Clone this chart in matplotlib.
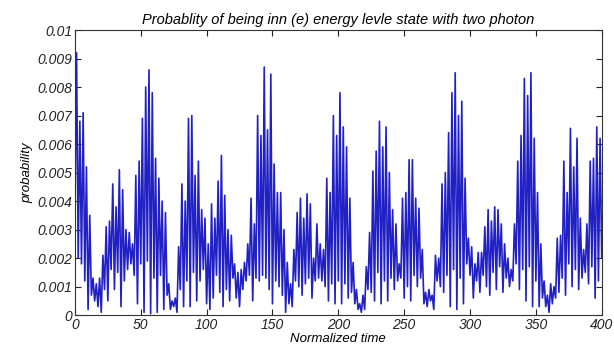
import numpy as np
import matplotlib
matplotlib.use("Agg")
import matplotlib.pyplot as plt

# Peak values (x1e-3) of each oscillation, one per 2.5 time units starting at t=1.25
peaks = [
    9.2, 6.8, 7.1, 5.2, 3.5, 1.3, 1.1, 1.3, 2.1, 3.1,
    3.3, 4.6, 3.8, 5.1, 4.4, 3.0, 2.9, 2.5, 4.9, 5.4,
    6.9, 8.0, 8.6, 7.8, 5.5, 4.8, 4.0, 3.6, 1.1, 0.5,
    0.6, 2.4, 4.6, 4.0, 6.9, 7.0, 4.9, 5.4, 3.7, 3.4,
    2.5, 3.9, 3.4, 4.7, 5.6, 4.2, 3.0, 2.8, 1.8, 1.5,
    1.6, 1.85, 2.5, 4.1, 3.2, 7.0, 6.3, 8.7, 6.5, 8.45,
    5.3, 4.3, 4.3, 3.0, 1.85, 1.1, 2.3, 3.6, 4.1, 3.4,
    4.25, 3.9, 2.0, 3.2, 2.5, 2.3, 4.8, 4.3, 7.0, 6.3,
    7.8, 6.6, 5.9, 4.1, 1.85, 0.9, 0.4, 0.7, 1.7, 2.9,
    5.05, 5.75, 6.8, 5.9, 6.6, 5.0, 3.7, 3.2, 1.8, 4.1,
    4.3, 5.45, 5.45, 4.1, 3.75, 2.3, 0.8, 0.9, 0.7, 2.1,
    2.0, 4.6, 5.0, 6.4, 7.8, 8.5, 7.0, 7.5, 4.8, 2.7,
    2.4, 1.8, 2.2, 2.2, 3.1, 3.7, 3.3, 3.8, 3.7, 3.2,
    2.5, 2.0, 1.6, 3.2, 5.4, 6.3, 8.3, 7.7, 8.5, 6.2,
    4.3, 2.5, 1.2, 0.7, 1.1, 1.0, 2.7, 2.8, 5.4, 4.3,
    6.55, 5.2, 6.2, 3.4, 2.3, 3.2, 5.4, 5.5, 6.6, 6.2,
]

# Trough values (x1e-3), one per 2.5 time units starting at t=0
troughs = [
    3.5, 2.0, 1.8, 1.2, 0.2, 0.7, 0.5, 0.3, 0.1, 0.9,
    0.5, 1.6, 0.9, 1.5, 0.3, 1.2, 1.6, 1.8, 1.4, 0.4,
    1.8, 0.1, 1.9, 0.05, 1.3, 0.1, 1.4, 0.2, 0.7, 0.2,
    0.3, 0.1, 0.9, 0.3, 1.2, 0.3, 1.5, 0.5, 1.2, 1.6,
    0.4, 0.2, 0.6, 1.4, 0.8, 0.3, 0.9, 0.5, 1.3, 0.6,
    0.3, 0.9, 1.2, 1.4, 0.5, 1.3, 1.2, 1.4, 1.3, 0.9,
    0.4, 1.2, 1.0, 0.7, 0.1, 0.4, 0.3, 1.2, 1.0, 0.7,
    1.1, 1.3, 0.6, 1.2, 1.3, 1.2, 1.0, 0.5, 1.1, 0.4,
    1.2, 0.4, 1.1, 0.6, 0.8, 0.4, 0.2, 0.1, 0.2, 0.9,
    0.8, 0.5, 1.5, 0.4, 1.2, 0.5, 1.3, 0.9, 1.2, 1.3,
    0.6, 1.0, 0.5, 1.4, 1.0, 1.3, 0.4, 0.3, 0.5, 0.2,
    1.2, 1.0, 0.8, 1.4, 0.3, 1.6, 0.2, 1.3, 0.4, 1.8,
    1.4, 0.6, 1.2, 0.8, 1.4, 1.0, 0.7, 1.5, 0.9, 1.7,
    0.8, 1.3, 1.0, 1.2, 1.8, 0.9, 1.6, 0.5, 1.7, 0.3,
    1.2, 0.3, 0.6, 0.3, 0.1, 0.4, 0.6, 0.8, 1.3, 0.7,
    1.8, 1.0, 1.6, 0.9, 1.3, 1.5, 1.1, 1.7, 0.6, 1.2,
    2.0,
]

x_ticks = [0, 50, 100, 150, 200, 250, 300, 350, 400]
y_ticks = [0, 0.001, 0.002, 0.003, 0.004, 0.005, 0.006, 0.007, 0.008, 0.009, 0.01]
y_tick_labels = ["0", "0.001", "0.002", "0.003", "0.004", "0.005",
                 "0.006", "0.007", "0.008", "0.009", "0.01"]

# interleave troughs and peaks into one sampled series
vals = []
for i in range(len(peaks)):
    vals.append(troughs[i])
    vals.append(peaks[i])
vals.append(troughs[len(peaks)])
vals = np.array(vals) * 1e-3
t = np.linspace(0, 400, len(vals))

plt.rcParams['font.family'] = ['Liberation Sans', 'DejaVu Sans']
fig = plt.figure(figsize=(6.14, 3.49), dpi=100)
ax = fig.add_axes([0.122, 0.097, 0.858, 0.817])
ax.plot(t, vals, color='#2020c4', lw=1.2)

ax.set_xlim(0, 400)
ax.set_ylim(0, 0.01)
ax.set_xticks(x_ticks)
ax.set_xticklabels([str(v) for v in x_ticks], fontstyle='italic', fontsize=10)
ax.set_yticks(y_ticks)
ax.set_yticklabels(y_tick_labels, fontstyle='italic', fontsize=10)
ax.tick_params(direction='in', length=4, width=0.8, top=True, right=True, pad=2, colors='#222222')
for s in ax.spines.values():
    s.set_color('#333333')
    s.set_linewidth(0.8)

ax.set_title('Probablity of being inn (e) energy levle state with two photon',
             fontstyle='italic', fontsize=10.5, pad=4)
ax.set_xlabel('Normalized time', fontstyle='italic', fontsize=9.5, labelpad=1)
ax.set_ylabel('probability', fontstyle='italic', fontsize=9.5, labelpad=3)

fig.savefig('out.png', dpi=100, facecolor='white')
